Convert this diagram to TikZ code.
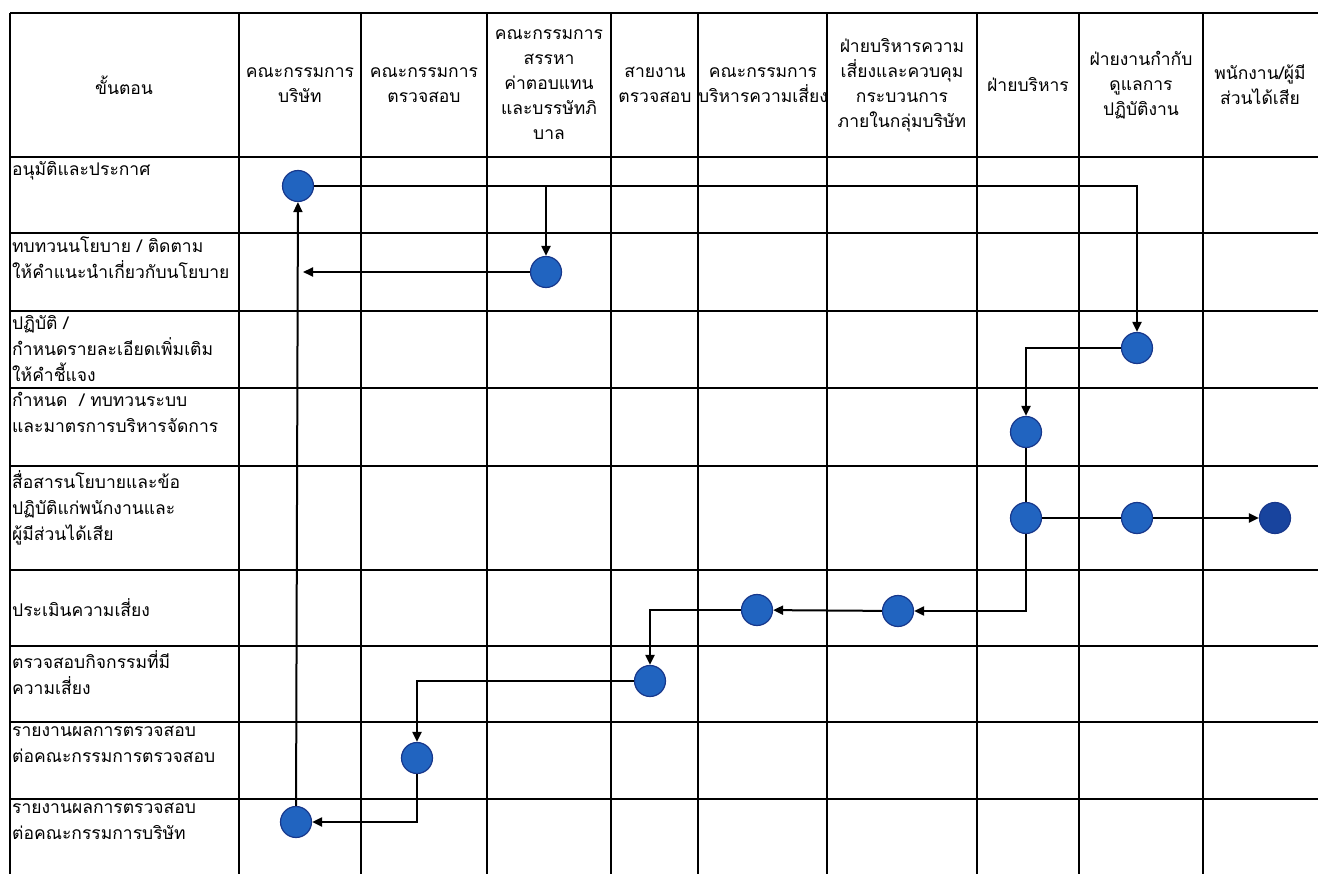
\documentclass[tikz,border=0pt]{standalone}
\usepackage{fontspec}
\newfontfamily\thaifont[Script=Thai]{Loma}
\usetikzlibrary{arrows.meta, positioning}
\definecolor{actblue}{RGB}{33,100,192}
\definecolor{actedge}{RGB}{24,56,140}
\definecolor{actdark}{RGB}{24,68,158}

\begin{document}
\begin{tikzpicture}[x=1pt, y=-1pt, >={Triangle[length=10pt,width=9pt]},
    flow/.style={->, line width=2pt},
    actnode/.style={circle, draw=actedge, fill=actblue, line width=1.2pt, minimum size=31pt, inner sep=0pt},
    head/.style={font=\thaifont\fontsize{17.5}{25}\selectfont, align=center, inner sep=0pt},
    steplbl/.style={font=\thaifont\fontsize{17.5}{26}\selectfont, align=left, anchor=north west, inner sep=2pt, yshift=-2pt}]
    \useasboundingbox (0,0) rectangle (1318,874);

    % Table grid
    \foreach \y in {13,157,233,311,388,466,570,646,722,799}
        \draw [line width=1.5pt] (10,\y) -- (1318,\y);
    \foreach \x in {10,239,361,487,611,698,827,977,1079,1203}
        \draw [line width=1.5pt] (\x,13) -- (\x,874);

    % Header row
    \node [head] (h0) at (124,85) {ขั้นตอน};
    \node [head] (h1) at (300,85) {คณะกรรมการ\\บริษัท};
    \node [head] (h2) at (424,85) {คณะกรรมการ\\ตรวจสอบ};
    \node [head] (h3) at (549,85) {คณะกรรมการ\\สรรหา\\ค่าตอบแทน\\และบรรษัทภิ\\บาล};
    \node [head] (h4) at (655,85) {สายงาน\\ตรวจสอบ};
    \node [head] (h5) at (763,85) {คณะกรรมการ\\บริหารความเสี่ยง};
    \node [head] (h6) at (902,85) {ฝ่ายบริหารความ\\เสี่ยงและควบคุม\\กระบวนการ\\ภายในกลุ่มบริษัท};
    \node [head] (h7) at (1028,85) {ฝ่ายบริหาร};
    \node [head] (h8) at (1141,85) {ฝ่ายงานกำกับ\\ดูแลการ\\ปฏิบัติงาน};
    \node [head] (h9) at (1260,85) {พนักงาน/ผู้มี\\ส่วนได้เสีย};

    % Steps (left column)
    \node [steplbl] (s1) at (10,157) {อนุมัติและประกาศ};
    \node [steplbl] (s2) at (10,233) {ทบทวนนโยบาย / ติดตาม\\ให้คำแนะนำเกี่ยวกับนโยบาย};
    \node [steplbl] (s3) at (10,311) {ปฏิบัติ /\\กำหนดรายละเอียดเพิ่มเติม\\ให้คำชี้แจง};
    \node [steplbl] (s4) at (10,388) {กำหนด~ / ทบทวนระบบ\\และมาตรการบริหารจัดการ};
    \node [steplbl] (s5) at (10,466) {สื่อสารนโยบายและข้อ\\ปฏิบัติแก่พนักงานและ\\ผู้มีส่วนได้เสีย};
    \node [steplbl, anchor=west, yshift=2pt] (s6) at (10,608) {ประเมินความเสี่ยง};
    \node [steplbl] (s7) at (10,646) {ตรวจสอบกิจกรรมที่มี\\ความเสี่ยง};
    \node [steplbl] (s8) at (10,722) {รายงานผลการตรวจสอบ\\ต่อคณะกรรมการตรวจสอบ};
    \node [steplbl] (s9) at (10,799) {รายงานผลการตรวจสอบ\\ต่อคณะกรรมการบริษัท};

    % Activities
    \node [actnode] (a1) at (298,186) {};
    \node [actnode] (a2) at (546,272) {};
    \node [actnode] (a3) at (1137,348) {};
    \node [actnode] (a4) at (1026,432) {};
    \node [actnode] (a5) at (1026,518) {};
    \node [actnode] (a5b) at (1137,518) {};
    \node [actnode, fill=actdark] (a5c) at (1275,518) {};
    \node [actnode] (a6) at (898,611) {};
    \node [actnode] (a6b) at (757,610) {};
    \node [actnode] (a7) at (650,681) {};
    \node [actnode] (a8) at (417,758) {};
    \node [actnode] (a9) at (296,822) {};
    \coordinate (back) at (303,272);

    % Flow
    \draw [flow] (a1) -| (a3);
    \draw [flow] (a1 -| a2) -- (a2);
    \draw [flow] (a2) -- (back);
    \draw [flow] (a3) -| (a4);
    \draw [flow, -] (a4) -- (a5);
    \draw [flow] (a5) |- (a6);
    \draw [flow, -] (a5) -- (a5b);
    \draw [flow] (a5b) -- (a5c);
    \draw [flow] (a6) -- (a6b);
    \draw [flow] (a6b) -| (a7);
    \draw [flow] (a7) -| (a8);
    \draw [flow] (a8) |- (a9);
    \draw [flow] (a9) -- (a1);
\end{tikzpicture}
\end{document}
